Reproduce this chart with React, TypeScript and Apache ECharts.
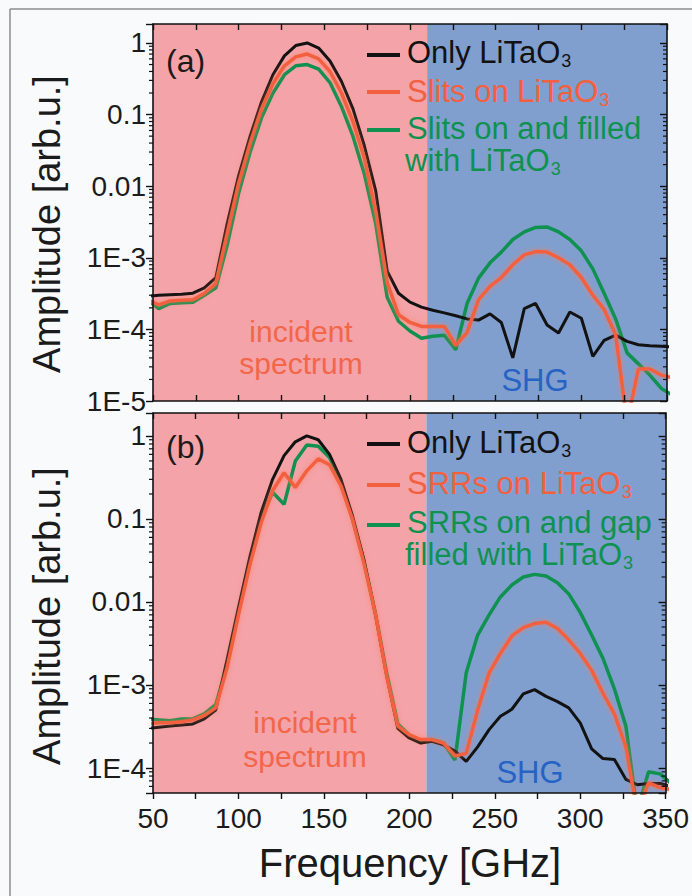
import React, { useEffect, useRef } from "react";
import * as echarts from "echarts";

const FONT = '"Liberation Sans", Arial, Helvetica, sans-serif';

// Frequency samples (GHz)
const freqGHz = [46.7, 53.3, 60, 66.7, 73.3, 80, 86.7, 93.3, 100, 106.7, 113.3, 120, 126.7, 133.3, 140, 146.7, 153.3, 160, 166.7, 173.3, 180, 186.7, 193.3, 200, 206.7, 213.3, 220, 226.7, 233.3, 240, 246.7, 253.3, 260, 266.7, 273.3, 280, 286.7, 293.3, 300, 306.7, 313.3, 320, 326.7, 333.3, 340, 346.7, 353.3];

// Panel (a)
const onlyA = [2.9e-4, 3.0e-4, 3.05e-4, 3.1e-4, 3.2e-4, 3.8e-4, 5.3e-4, 3.0e-3, 1.4e-2, 0.05, 0.15, 0.36, 0.66, 0.92, 1.0, 0.85, 0.56, 0.29, 0.12, 0.037, 8.5e-3, 6.5e-4, 3.2e-4, 2.4e-4, 2.05e-4, 1.85e-4, 1.7e-4, 1.55e-4, 1.4e-4, 1.35e-4, 1.65e-4, 1.25e-4, 4.0e-5, 1.95e-4, 2.3e-4, 1.15e-4, 8.9e-5, 1.75e-4, 1.43e-4, 4.2e-5, 7.0e-5, 8.3e-5, 6.8e-5, 6.1e-5, 5.9e-5, 5.8e-5, 5.7e-5];
const slitsA = [2.6e-4, 2.2e-4, 2.5e-4, 2.55e-4, 2.6e-4, 3.2e-4, 4.4e-4, 2.2e-3, 1.1e-2, 0.04, 0.12, 0.27, 0.48, 0.64, 0.70, 0.60, 0.40, 0.2, 0.08, 0.025, 4.5e-3, 4.5e-4, 1.6e-4, 1.25e-4, 1.1e-4, 1.1e-4, 1.1e-4, 6.0e-5, 9.0e-5, 2.6e-4, 4.0e-4, 5.3e-4, 8.0e-4, 1.1e-3, 1.22e-3, 1.2e-3, 1.0e-3, 8.0e-4, 5.3e-4, 3.0e-4, 1.9e-4, 8.5e-5, 5.0e-6, 2.8e-5, 2.8e-5, 2.3e-5, 2.1e-5];
const filledA = [2.6e-4, 1.95e-4, 2.3e-4, 2.35e-4, 2.4e-4, 3.0e-4, 3.8e-4, 1.5e-3, 8.0e-3, 0.03, 0.09, 0.2, 0.36, 0.48, 0.50, 0.43, 0.28, 0.13, 0.05, 0.015, 3.0e-3, 2.8e-4, 1.3e-4, 9.5e-5, 7.5e-5, 8.0e-5, 8.3e-5, 5.2e-5, 2.3e-4, 5.2e-4, 8.5e-4, 1.2e-3, 1.8e-3, 2.3e-3, 2.65e-3, 2.7e-3, 2.3e-3, 1.8e-3, 1.25e-3, 7.0e-4, 3.2e-4, 1.4e-4, 4.7e-5, 3.3e-5, 2.3e-5, 1.5e-5, 1.2e-5];

// Panel (b)
const onlyB = [3.0e-4, 3.1e-4, 3.2e-4, 3.3e-4, 3.4e-4, 3.9e-4, 5.0e-4, 2.0e-3, 8.5e-3, 0.035, 0.12, 0.3, 0.58, 0.85, 1.0, 0.9, 0.6, 0.3, 0.11, 0.033, 7.5e-3, 1.3e-3, 3.0e-4, 2.3e-4, 2.0e-4, 2.1e-4, 1.9e-4, 1.6e-4, 1.2e-4, 1.8e-4, 2.9e-4, 4.2e-4, 5.1e-4, 7.8e-4, 8.8e-4, 7.3e-4, 6.3e-4, 5.3e-4, 3.5e-4, 1.7e-4, 1.3e-4, 1.27e-4, 7.3e-5, 6.3e-5, 6.5e-5, 6.5e-5, 6.0e-5];
const srrB = [3.4e-4, 3.5e-4, 3.5e-4, 3.6e-4, 3.8e-4, 4.3e-4, 5.3e-4, 1.6e-3, 7.0e-3, 0.028, 0.09, 0.22, 0.36, 0.24, 0.38, 0.53, 0.45, 0.25, 0.1, 0.03, 7.5e-3, 1.3e-3, 3.2e-4, 2.5e-4, 2.2e-4, 2.2e-4, 2.0e-4, 1.4e-4, 1.5e-4, 5.0e-4, 1.4e-3, 2.4e-3, 3.9e-3, 4.9e-3, 5.5e-3, 5.7e-3, 4.8e-3, 3.5e-3, 2.4e-3, 1.5e-3, 8.0e-4, 4.5e-4, 1.8e-4, 3.0e-5, 6.6e-5, 5.8e-5, 5.5e-5];
const gapB = [3.9e-4, 3.8e-4, 3.7e-4, 3.9e-4, 3.9e-4, 4.5e-4, 5.8e-4, 1.7e-3, 7.5e-3, 0.03, 0.1, 0.21, 0.15, 0.5, 0.78, 0.75, 0.55, 0.28, 0.1, 0.032, 7.5e-3, 1.4e-3, 3.4e-4, 2.5e-4, 2.1e-4, 2.2e-4, 2.0e-4, 1.25e-4, 1.4e-3, 4.0e-3, 7.0e-3, 1.15e-2, 1.6e-2, 2.0e-2, 2.15e-2, 2.05e-2, 1.7e-2, 1.25e-2, 7.5e-3, 4.0e-3, 2.1e-3, 9.0e-4, 3.2e-4, 3.0e-5, 9.0e-5, 8.5e-5, 6.5e-5];

// Axes
const xMin = 50;
const xMax = 350;
const xTickStep = 25;
const xLabelStep = 50;
const splitFreq = 210;
const yRangeA = [1e-5, 1.84];
const yRangeB = [5e-5, 1.89];
const yTickValues = [1, 0.1, 0.01, 1e-3, 1e-4, 1e-5];
const yTickLabels = ["1", "0.1", "0.01", "1E-3", "1E-4", "1E-5"];
const minorMultipliers = [2, 3, 4, 5, 6, 7, 8, 9];

const C = {
  black: "#121212",
  orange: "#f3603f",
  green: "#0f9150",
  pink: "#f4a3a8",
  blue: "#809fcf",
  incident: "#f2664a",
  shg: "#2563c4",
  text: "#1b1b1b",
  frame: "#8c8c8c",
};

const LEGEND_SIZE = 31;
const SUB_SIZE = 18;

function yLabel(v: number) {
  for (let i = 0; i < yTickValues.length; i++) {
    if (Math.abs(v - yTickValues[i]) <= yTickValues[i] * 1e-6) return yTickLabels[i];
  }
  return "";
}

function minorValues(range: number[]) {
  const out: number[] = [];
  const e0 = Math.floor(Math.log10(range[0]));
  const e1 = Math.ceil(Math.log10(range[1]));
  for (let e = e0; e <= e1; e++) {
    for (const m of minorMultipliers) {
      const v = m * Math.pow(10, e);
      if (v > range[0] * 1.0001 && v < range[1]) out.push(v);
    }
  }
  return out;
}

const pairs = (ys: number[]) => freqGHz.map((f, i) => [f, ys[i]]);

const axisLine = { show: true, onZero: false, lineStyle: { color: "#111", width: 1.6 } };
const tickLine = { color: "#111", width: 1.4 };

function xAxis(gridIndex: number, position: string, inside: boolean, labels: boolean) {
  return {
    type: "value",
    gridIndex,
    position,
    min: xMin,
    max: xMax,
    interval: xTickStep,
    axisLine,
    axisTick: { show: true, inside, length: 6, lineStyle: tickLine },
    axisLabel: {
      show: labels,
      formatter: (v: number) => (v % xLabelStep === 0 ? String(v) : ""),
      fontSize: 28,
      fontFamily: FONT,
      color: C.text,
      margin: 11,
    },
    splitLine: { show: false },
    z: 10,
  };
}

function yAxis(gridIndex: number, position: string, range: number[], labels: boolean) {
  return {
    type: "log",
    logBase: 10,
    gridIndex,
    position,
    min: range[0],
    max: range[1],
    axisLine,
    axisTick: { show: true, inside: position === "right", length: 7, lineStyle: tickLine },
    axisLabel: {
      show: labels,
      formatter: yLabel,
      fontSize: 28,
      fontFamily: FONT,
      color: C.text,
      margin: 7,
    },
    splitLine: { show: false },
    z: 10,
  };
}

function lineSeries(name: string, ys: number[], color: string, width: number, axis: number, z: number, glow = false, bg = false) {
  const s: any = {
    name,
    type: "line",
    xAxisIndex: axis * 2,
    yAxisIndex: axis * 2,
    data: pairs(ys),
    showSymbol: false,
    symbol: "none",
    clip: true,
    z,
    lineStyle: glow
      ? { color, width, shadowBlur: 5, shadowColor: "rgba(255,120,90,0.7)" }
      : { color, width },
    itemStyle: { color },
  };
  if (bg) {
    s.markArea = {
      silent: true,
      data: [
        [{ xAxis: xMin, itemStyle: { color: C.pink } }, { xAxis: splitFreq }],
        [{ xAxis: splitFreq, itemStyle: { color: C.blue } }, { xAxis: xMax }],
      ],
    };
  }
  return s;
}

function minorTickSeries(axis: number, range: number[]) {
  return {
    type: "custom",
    xAxisIndex: axis * 2,
    yAxisIndex: axis * 2,
    silent: true,
    clip: false,
    z: 11,
    data: minorValues(range).map((v) => [xMin, v]),
    encode: { x: 0, y: 1 },
    renderItem: (_p: any, api: any) => {
      const v = api.value(1);
      const l = api.coord([xMin, v]);
      const r = api.coord([xMax, v]);
      return {
        type: "group",
        children: [
          { type: "line", shape: { x1: l[0] - 4, y1: l[1], x2: l[0], y2: l[1] }, style: { stroke: "#111", lineWidth: 1.2 } },
          { type: "line", shape: { x1: r[0] - 4, y1: r[1], x2: r[0], y2: r[1] }, style: { stroke: "#111", lineWidth: 1.2 } },
        ],
      };
    },
  };
}

let measureCtx: CanvasRenderingContext2D | null = null;
function textWidth(text: string, size: number) {
  if (!measureCtx) measureCtx = document.createElement("canvas").getContext("2d");
  if (!measureCtx) return text.length * size * 0.55;
  measureCtx.font = `${size}px ${FONT}`;
  return measureCtx.measureText(text).width;
}

function labelWithSub(x: number, y: number, main: string, sub: string, color: string) {
  const items: any[] = [
    {
      type: "text",
      x,
      y,
      z: 100,
      style: { text: main, fill: color, fontSize: LEGEND_SIZE, fontFamily: FONT, align: "left", verticalAlign: "middle" },
    },
  ];
  if (sub) {
    items.push({
      type: "text",
      x: x + textWidth(main, LEGEND_SIZE) + 1,
      y: y + 9,
      z: 100,
      style: { text: sub, fill: color, fontSize: SUB_SIZE, fontFamily: FONT, align: "left", verticalAlign: "middle" },
    });
  }
  return items;
}

function dash(y: number, color: string) {
  return {
    type: "line",
    z: 100,
    shape: { x1: 367, y1: y, x2: 400, y2: y },
    style: { stroke: color, lineWidth: 4 },
  };
}

function plainText(x: number, y: number, text: string, size: number, color: string, align = "center", rotation = 0) {
  return {
    type: "text",
    x,
    y,
    rotation,
    z: 100,
    style: { text, fill: color, fontSize: size, fontFamily: FONT, align, verticalAlign: "middle" },
  };
}

export default function App() {
  const ref = useRef<HTMLDivElement>(null);
  useEffect(() => {
    if (!ref.current) return;
    const chart = echarts.init(ref.current, undefined, { renderer: "svg" });
    const option: any = {
      animation: false,
      backgroundColor: "#f9fafc",
      grid: [
        { left: 153, top: 24, width: 514, height: 377 },
        { left: 153, top: 413, width: 514, height: 380 },
      ],
      xAxis: [
        xAxis(0, "bottom", true, false),
        xAxis(0, "top", true, false),
        xAxis(1, "bottom", false, true),
        xAxis(1, "top", true, false),
      ],
      yAxis: [
        yAxis(0, "left", yRangeA, true),
        yAxis(0, "right", yRangeA, false),
        yAxis(1, "left", yRangeB, true),
        yAxis(1, "right", yRangeB, false),
      ],
      series: [
        lineSeries("Slits on and filled with LiTaO3", filledA, C.green, 3.5, 0, 3, false, true),
        lineSeries("Only LiTaO3", onlyA, C.black, 3, 0, 4),
        lineSeries("Slits on LiTaO3", slitsA, C.orange, 3.5, 0, 5, true),
        minorTickSeries(0, yRangeA),
        lineSeries("SRRs on and gap filled with LiTaO3", gapB, C.green, 3.5, 1, 3, false, true),
        lineSeries("Only LiTaO3", onlyB, C.black, 3, 1, 4),
        lineSeries("SRRs on LiTaO3", srrB, C.orange, 3.5, 1, 5, true),
        minorTickSeries(1, yRangeB),
      ],
      graphic: [
        { type: "line", z: 100, shape: { x1: 10, y1: 9, x2: 692, y2: 9 }, style: { stroke: C.frame, lineWidth: 1.5 } },
        { type: "line", z: 100, shape: { x1: 10, y1: 9, x2: 10, y2: 896 }, style: { stroke: C.frame, lineWidth: 1.5 } },
        plainText(47, 224, "Amplitude [arb.u.]", 38, C.text, "center", Math.PI / 2),
        plainText(47, 616, "Amplitude [arb.u.]", 38, C.text, "center", Math.PI / 2),
        plainText(410, 863, "Frequency [GHz]", 40, C.text),
        plainText(166, 61, "(a)", 32, C.text, "left"),
        plainText(166, 447, "(b)", 32, C.text, "left"),
        plainText(301, 331, "incident", 30, C.incident),
        plainText(301, 363, "spectrum", 30, C.incident),
        plainText(535, 380, "SHG", 31, C.shg),
        plainText(305, 722, "incident", 30, C.incident),
        plainText(305, 756, "spectrum", 30, C.incident),
        plainText(530, 772, "SHG", 31, C.shg),
        dash(55, C.black),
        ...labelWithSub(407, 52, "Only LiTaO", "3", C.black),
        dash(92, C.orange),
        ...labelWithSub(407, 91, "Slits on LiTaO", "3", C.orange),
        dash(130, C.green),
        ...labelWithSub(407, 128, "Slits on and filled", "", C.green),
        ...labelWithSub(405, 160, "with LiTaO", "3", C.green),
        dash(444, C.black),
        ...labelWithSub(407, 442, "Only LiTaO", "3", C.black),
        dash(485, C.orange),
        ...labelWithSub(407, 483, "SRRs on LiTaO", "3", C.orange),
        dash(525, C.green),
        ...labelWithSub(407, 522, "SRRs on and gap", "", C.green),
        ...labelWithSub(405, 554, "filled with LiTaO", "3", C.green),
      ],
    };
    chart.setOption(option);
    return () => chart.dispose();
  }, []);
  return (
    <div
      ref={ref}
      style={{ position: "fixed", left: 0, top: 0, width: 692, height: 896, background: "#f9fafc" }}
    />
  );
}
